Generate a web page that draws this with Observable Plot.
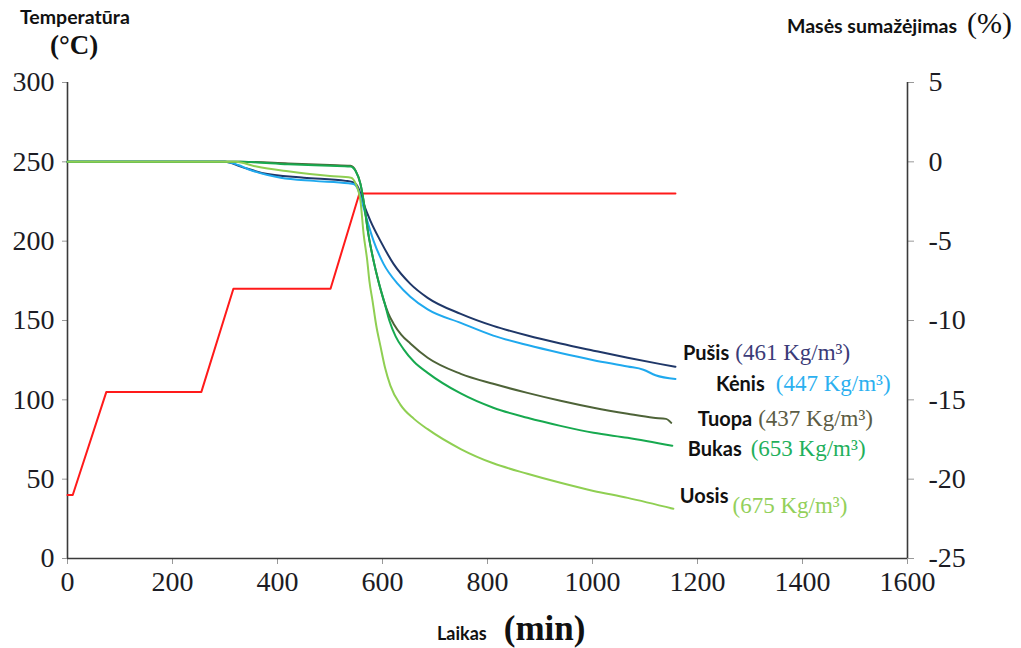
<!DOCTYPE html>
<html>
<head>
<meta charset="utf-8">
<script src="https://cdn.jsdelivr.net/npm/d3@7"></script>
<script src="https://cdn.jsdelivr.net/npm/@observablehq/plot@0.6"></script>
<style>
  html, body { margin: 0; padding: 0; background: #fff; }
  #chart svg { display: block; }
</style>
</head>
<body>
<div id="chart"></div>
<script>
// Heating programme (left axis, °C)
const heatTime = [0, 10, 74, 255, 316, 501, 556, 1158];
const heatTemp = [40, 40, 105, 105, 170, 170, 230, 230];

// Mass loss (right axis, %) for each wood species
const pusisTime = [0, 300, 330, 370, 450, 530, 545, 554, 564, 577, 596, 621, 653, 686, 749, 811, 876, 939, 1002, 1067, 1130, 1158];
const pusisLoss = [0, 0, -0.3, -0.7, -1.0, -1.2, -1.3, -1.64, -2.65, -3.72, -4.98, -6.43, -7.69, -8.57, -9.58, -10.34, -10.95, -11.45, -11.9, -12.35, -12.75, -12.92];

const kenisTime = [0, 300, 325, 343, 406, 469, 535, 545, 552, 562, 571, 583, 602, 629, 653, 686, 749, 811, 876, 939, 1002, 1067, 1097, 1120, 1158];
const kenisLoss = [0, 0, -0.2, -0.45, -1.0, -1.2, -1.35, -1.4, -1.64, -2.65, -3.72, -4.98, -6.43, -7.69, -8.5, -9.3, -10.15, -10.95, -11.55, -12.05, -12.5, -12.9, -13.1, -13.45, -13.68];

const tuopaTime = [0, 330, 420, 500, 539, 549, 558, 564, 573, 583, 592, 602, 611, 621, 636, 653, 686, 749, 811, 876, 939, 1002, 1067, 1116, 1140, 1150];
const tuopaLoss = [0, 0, -0.1, -0.2, -0.25, -0.57, -1.39, -2.46, -4.54, -6.24, -7.5, -8.7, -9.55, -10.2, -10.9, -11.45, -12.35, -13.36, -13.99, -14.56, -15.06, -15.5, -15.88, -16.13, -16.2, -16.45];

const bukasTime = [0, 330, 420, 500, 539, 549, 558, 564, 573, 583, 592, 604, 613, 625, 640, 660, 686, 749, 811, 876, 939, 1002, 1067, 1152];
const bukasLoss = [0, 0, -0.15, -0.25, -0.3, -0.6, -1.39, -2.46, -4.54, -6.24, -7.5, -8.9, -10.0, -11.0, -11.8, -12.6, -13.3, -14.6, -15.5, -16.13, -16.64, -17.08, -17.39, -17.9];

const uosisTime = [0, 320, 360, 420, 500, 540, 549, 558, 564, 571, 575, 581, 588, 596, 605, 615, 634, 660, 686, 749, 811, 876, 939, 1002, 1067, 1154];
const uosisLoss = [0, 0, -0.3, -0.6, -0.9, -1.0, -1.39, -2.46, -4.54, -6.24, -7.5, -8.76, -10.3, -11.6, -13.0, -14.1, -15.3, -16.2, -16.85, -18.1, -19.0, -19.66, -20.23, -20.74, -21.18, -21.87];

const speciesNames = ["Pušis", "Kėnis", "Tuopa", "Bukas", "Uosis"];
const speciesDensity = [461, 447, 437, 653, 675];

// Axis ticks
const timeTicks = [0, 200, 400, 600, 800, 1000, 1200, 1400, 1600];
const tempTicks = [0, 50, 100, 150, 200, 250, 300];

// Mass loss shares the temperature scale: 0 % sits at 250 °C, 1 % = 10 °C
const lossToTemp = v => 250 + v * 10;
const tempToLoss = t => (t - 250) / 10;

const series = [
  {name: speciesNames[0], density: speciesDensity[0], time: pusisTime, loss: pusisLoss, stroke: "#1f3768", text: "#3b3b78", gap: 6, dx: 8, dy: -11, ddy: 0},
  {name: speciesNames[1], density: speciesDensity[1], time: kenisTime, loss: kenisLoss, stroke: "#1fa9ee", text: "#2bb0f0", gap: 11, dx: 41, dy: 8, ddy: 0},
  {name: speciesNames[2], density: speciesDensity[2], time: tuopaTime, loss: tuopaLoss, stroke: "#4e6338", text: "#5c5c44", gap: 6, dx: 27, dy: -1, ddy: 0},
  {name: speciesNames[3], density: speciesDensity[3], time: bukasTime, loss: bukasLoss, stroke: "#17a94f", text: "#1fb05c", gap: 9, dx: 16, dy: 6, ddy: 0},
  {name: speciesNames[4], density: speciesDensity[4], time: uosisTime, loss: uosisLoss, stroke: "#8fcf52", text: "#93d05a", gap: 4, dx: 7, dy: -10, ddy: 10}
];

const heat = heatTime.map((t, i) => ({t, temp: heatTemp[i]}));
const seriesRows = series.map(s => s.time.map((t, i) => ({t, v: lossToTemp(s.loss[i])})));

const serif = "'Liberation Serif', 'Times New Roman', serif";
const sans = "Lato, 'Open Sans', sans-serif";

const chart = Plot.plot({
  width: 1021,
  height: 648,
  marginLeft: 67,
  marginRight: 114,
  marginTop: 82,
  marginBottom: 90,
  style: {fontFamily: serif, background: "#fff", color: "#1c1c24"},
  x: {domain: [0, 1600]},
  y: {domain: [0, 300]},
  marks: [
    Plot.axisX({ticks: timeTicks, tickFormat: d => String(d), tickSize: 6, tickPadding: 7, label: null, fontSize: 28, stroke: "#999", fill: "#1c1c24"}),
    Plot.axisY({anchor: "left", ticks: tempTicks, tickFormat: d => String(d), tickSize: 5, tickPadding: 8, label: null, fontSize: 28, stroke: "#999", fill: "#1c1c24"}),
    Plot.axisY({anchor: "right", ticks: tempTicks, tickFormat: d => String(tempToLoss(d)), tickSize: 6, tickPadding: 15, label: null, fontSize: 28, stroke: "#999", fill: "#1c1c24"}),
    Plot.ruleX([0, 1600], {stroke: "#3a3a3a", strokeWidth: 1.6}),
    Plot.ruleY([0], {stroke: "#3a3a3a", strokeWidth: 1.6}),
    Plot.line(heat, {x: "t", y: "temp", stroke: "#ff1a1a", strokeWidth: 2}),
    ...series.map((s, i) => Plot.line(seriesRows[i], {x: "t", y: "v", stroke: s.stroke, strokeWidth: 2, curve: "monotone-x"}))
  ]
});

const svg = d3.select(chart);
const sx = chart.scale("x");
const sy = chart.scale("y");

// End-of-curve labels: species name and density
series.forEach(s => {
  const n = s.time.length - 1;
  const px = sx.apply(s.time[n]) + s.dx;
  const py = sy.apply(lossToTemp(s.loss[n])) + s.dy;
  const text = svg.append("text")
    .attr("x", px)
    .attr("y", py)
    .attr("text-anchor", "start")
    .attr("dominant-baseline", "middle");
  text.append("tspan")
    .attr("font-family", sans)
    .attr("font-weight", "bold")
    .attr("font-size", 20)
    .attr("fill", "#111")
    .text(s.name);
  text.append("tspan")
    .attr("dx", s.gap)
    .attr("dy", s.ddy)
    .attr("font-family", serif)
    .attr("font-size", 23)
    .attr("fill", s.text)
    .text(`(${s.density} Kg/m³)`);
});

// Axis titles
function title(x, y, parts) {
  const t = svg.append("text").attr("x", x).attr("y", y).attr("fill", "#111").attr("text-anchor", "start");
  parts.forEach(p => {
    t.append("tspan")
      .attr("dx", p.dx || 0)
      .attr("font-family", p.serif ? serif : sans)
      .attr("font-weight", p.bold ? "bold" : "normal")
      .attr("font-size", p.size)
      .text(p.text);
  });
}
title(20, 24, [{text: "Temperatūra", size: 19.5, bold: true}]);
title(50, 54, [{text: "(°C)", size: 27, bold: true, serif: true}]);
title(787, 33, [{text: "Masės sumažėjimas", size: 19.5, bold: true}, {text: "(%)", size: 30, serif: true, dx: 10}]);
title(437, 640, [{text: "Laikas", size: 18, bold: true}, {text: "(min)", size: 35, bold: true, serif: true, dx: 17}]);

document.getElementById("chart").appendChild(chart);
</script>
</body>
</html>
